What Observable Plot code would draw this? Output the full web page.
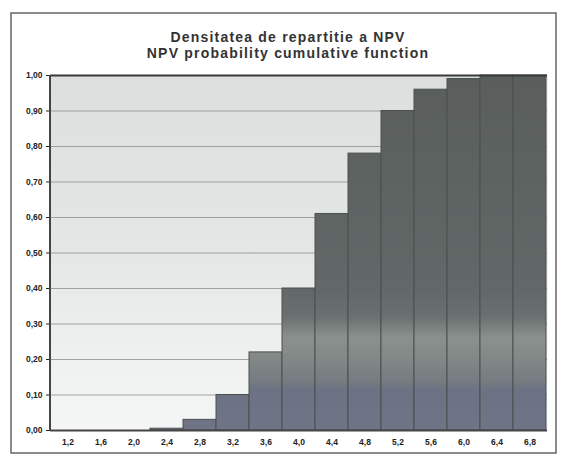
<!DOCTYPE html>
<html>
<head>
<meta charset="utf-8">
<script src="https://cdn.jsdelivr.net/npm/d3@7"></script>
<script src="https://cdn.jsdelivr.net/npm/@observablehq/plot@0.6"></script>
<style>
  html, body { margin: 0; padding: 0; background: #fff; }
  #chart { position: relative; width: 561px; height: 461px; }
</style>
</head>
<body>
<div id="chart"></div>
<script>
const titleLines = ["Densitatea de repartitie a NPV", "NPV probability cumulative function"];
const categories = ["1,2","1,6","2,0","2,4","2,8","3,2","3,6","4,0","4,4","4,8","5,2","5,6","6,0","6,4","6,8"];
const cumulative = [0, 0, 0, 0.005, 0.03, 0.10, 0.22, 0.40, 0.61, 0.78, 0.90, 0.96, 0.99, 1.00, 1.00];
const yTicks = [0,0.1,0.2,0.3,0.4,0.5,0.6,0.7,0.8,0.9,1.0];

const data = categories.map((c, i) => ({cat: c, p: cumulative[i]}));
const fmt = v => v.toFixed(2).replace(".", ",");

const plot = Plot.plot({
  width: 561,
  height: 461,
  marginTop: 75,
  marginBottom: 31,
  marginLeft: 50,
  marginRight: 14,
  style: {background: "transparent", fontFamily: "Liberation Sans, Arial, sans-serif", fontSize: "8.5px", fontWeight: "bold", color: "#222"},
  x: {domain: categories, padding: 0, label: null},
  y: {domain: [0, 1], label: null},
  marks: [
    Plot.frame({fill: "url(#bgGrad)", stroke: "none"}),
    Plot.ruleY(yTicks.slice(1, -1), {stroke: "#7f8482", strokeWidth: 1, strokeOpacity: 0.7}),
    Plot.barY(data, {x: "cat", y: "p", fill: "url(#barGrad)", stroke: "#4b504f", strokeWidth: 1}),
    Plot.ruleY([1], {stroke: "#3a3a3a", strokeWidth: 2}),
    Plot.ruleY([0], {stroke: "#444", strokeWidth: 2}),
    Plot.axisY({ticks: yTicks, tickFormat: fmt, tickSize: 4, tickPadding: 4, label: null}),
    Plot.axisX({tickSize: 0, tickPadding: 8, label: null})
  ]
});

const svg = d3.select(plot);
const defs = svg.insert("defs", ":first-child");
const bg = defs.append("linearGradient").attr("id", "bgGrad")
  .attr("gradientUnits", "userSpaceOnUse").attr("x1", 0).attr("x2", 0).attr("y1", 75).attr("y2", 430);
[[0, "#dcdfdd"], [0.5, "#e3e7e5"], [0.8, "#eef1ef"], [1, "#f4f6f5"]].forEach(([o, c]) =>
  bg.append("stop").attr("offset", o).attr("stop-color", c));
const bar = defs.append("linearGradient").attr("id", "barGrad")
  .attr("gradientUnits", "userSpaceOnUse").attr("x1", 0).attr("x2", 0).attr("y1", 75).attr("y2", 430);
[[0, "#595e5d"], [0.6, "#626867"], [0.68, "#6a706f"], [0.74, "#8b908e"], [0.80, "#828887"],
 [0.86, "#767c80"], [0.89, "#6c7284"], [1, "#6f7587"]].forEach(([o, c]) =>
  bar.append("stop").attr("offset", o).attr("stop-color", c));

// y axis line
svg.append("line").attr("x1", 50).attr("x2", 50).attr("y1", 75).attr("y2", 431)
  .attr("stroke", "#444").attr("stroke-width", 2);

// outer chart border
svg.append("rect").attr("x", 11).attr("y", 13).attr("width", 545).attr("height", 440)
  .attr("fill", "none").attr("stroke", "#666").attr("stroke-width", 1.5);

// title
const t = svg.append("text").attr("text-anchor", "middle")
  .attr("font-family", "Liberation Sans, Arial, sans-serif").attr("font-weight", "bold")
  .attr("font-size", 14).attr("letter-spacing", 1.2).attr("fill", "#333");
titleLines.forEach((s, i) => t.append("tspan").attr("x", 288).attr("y", 42 + i * 16).text(s));

document.getElementById("chart").appendChild(plot);
</script>
</body>
</html>
